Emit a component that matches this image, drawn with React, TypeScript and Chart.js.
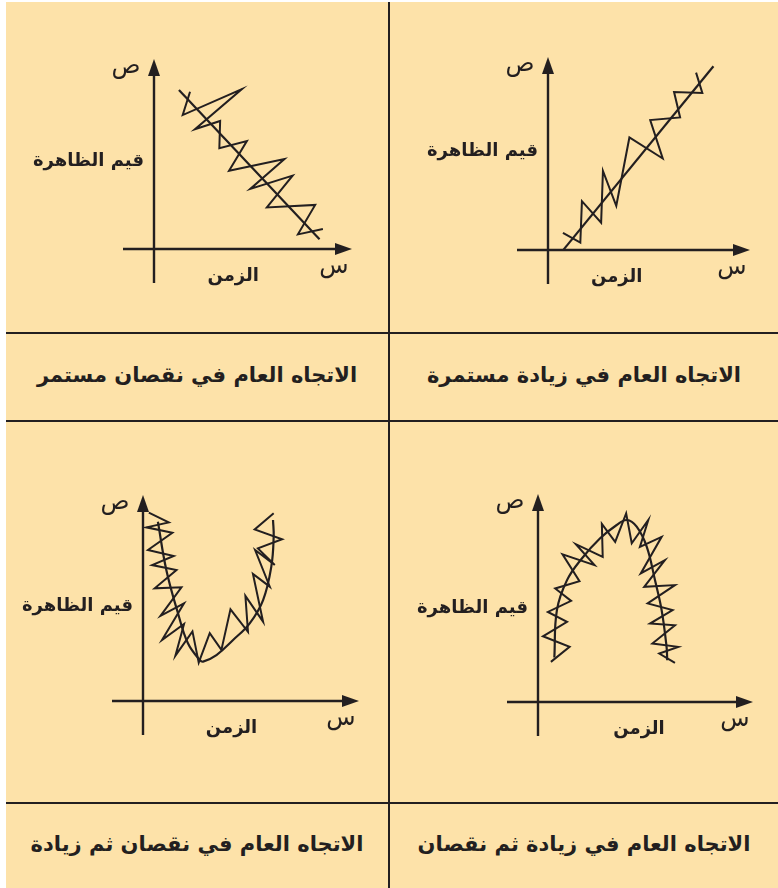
import React, { useEffect, useRef } from "react";
import { Chart, registerables } from "chart.js";

Chart.register(...registerables);

const PAPER = "#FDE2A9";
const INK = "#231F20";
const FONT = '"DejaVu Sans", sans-serif';

// Axis wording shared by all four sketches
const Y_TITLE = "قيم الظاهرة";
const X_TITLE = "الزمن";
const Y_SYMBOL = "ص";
const X_SYMBOL = "س";

// Captions under each sketch
const CAPTION_RISE = "الاتجاه العام في زيادة مستمرة";
const CAPTION_FALL = "الاتجاه العام في نقصان مستمر";
const CAPTION_RISE_FALL = "الاتجاه العام في زيادة ثم نقصان";
const CAPTION_FALL_RISE = "الاتجاه العام في نقصان ثم زيادة";

// Observed values (time, value) and general trend, on a 0–10 scale per axis
const risingObserved: [number, number][] = [
  [0.74, 0.89], [1.6, 0.38], [1.68, 2.53], [2.63, 1.41], [2.72, 4.1],
  [3.38, 2.29], [4.03, 5.83], [5.68, 4.74], [5.06, 6.73], [6.54, 6.87],
  [6.24, 8.19], [7.64, 8.14], [7.33, 9.19],
];
const risingTrend: [number, number][] = [[0.74, -0.02], [8.19, 9.52]];

const fallingObserved: [number, number][] = [
  [1.82, 8.28], [1.45, 7.05], [4.44, 8.42], [2.07, 6.3], [3.34, 6.74],
  [3.3, 5.3], [4.69, 5.68], [3.79, 4.12], [6.59, 4.74], [4.86, 3.16],
  [7.0, 3.86], [5.7, 2.19], [8.14, 2.32], [7.27, 0.77], [8.53, 1.05],
];
const fallingTrend: [number, number][] = [[1.26, 8.37], [8.36, 0.51]];

const archObserved: [number, number][] = [
  [0.6, 1.93], [1.47, 2.65], [0.23, 3.16], [1.35, 3.85], [0.46, 4.33],
  [1.54, 4.86], [0.8, 5.46], [1.93, 5.81], [1.14, 7.1], [2.63, 6.58],
  [1.76, 7.59], [3.01, 6.98], [2.97, 8.56], [3.59, 7.7], [4.1, 9.07],
  [4.36, 7.63], [5.13, 8.75], [4.74, 7.46], [5.75, 7.94], [4.78, 6.18],
  [5.9, 6.82], [4.94, 5.54], [6.37, 5.62], [5.1, 4.74], [6.26, 4.42],
  [5.21, 3.77], [6.37, 3.69], [5.32, 2.81], [6.52, 2.65], [5.64, 2.33],
  [6.37, 1.88],
];
const archTrend: [number, number][] = [
  [0.76, 2.14], [0.88, 4.42], [1.35, 5.86], [2.04, 6.9], [2.89, 7.87],
  [3.66, 8.51], [4.13, 8.75], [4.59, 8.43], [5.06, 7.46], [5.44, 5.86],
  [5.75, 4.42], [5.98, 2.65], [6.01, 2.01],
];

const valleyObserved: [number, number][] = [
  [0.27, 9.14], [1.19, 8.67], [0.16, 8.43], [1.36, 8.17], [0.23, 7.33],
  [1.42, 7.04], [0.42, 6.6], [1.55, 6.36], [0.54, 5.47], [1.78, 5.52],
  [0.81, 4.13], [1.9, 4.74], [0.88, 2.96], [1.9, 3.74], [1.5, 2.2],
  [2.29, 3.38], [2.58, 1.86], [3.09, 3.29], [3.63, 2.48], [4.05, 4.45],
  [4.86, 3.36], [4.74, 5.1], [5.56, 3.85], [5.09, 6.17], [5.87, 5.55],
  [5.19, 7.33], [6.1, 6.6], [5.32, 7.41], [6.44, 7.85], [5.17, 8.33],
  [6.05, 9.11],
];
const valleyTrend: [number, number][] = [
  [0.69, 8.7], [1.08, 6.36], [1.62, 4.26], [2.08, 2.8], [2.63, 1.99],
  [2.78, 1.91], [3.4, 2.23], [4.17, 2.96], [4.94, 3.77], [5.56, 4.9],
  [5.94, 6.52], [6.05, 7.98], [6.02, 8.79],
];

type Panel = {
  observed: [number, number][];
  trend: [number, number][];
  curved: boolean;
  box: { left: number; top: number; width: number; height: number };
  pad: { left: number; top: number; right: number; bottom: number };
  xTitleAt: number;
  yTitleAt: number;
};

const PANELS: Panel[] = [
  {
    observed: fallingObserved, trend: fallingTrend, curved: false,
    box: { left: 6, top: 2, width: 382, height: 330 },
    pad: { left: 148, top: 57, right: 36, bottom: 83 },
    xTitleAt: 4.0, yTitleAt: 4.63,
  },
  {
    observed: risingObserved, trend: risingTrend, curved: false,
    box: { left: 390, top: 2, width: 388, height: 330 },
    pad: { left: 158, top: 55, right: 28, bottom: 82 },
    xTitleAt: 3.4, yTitleAt: 5.12,
  },
  {
    observed: valleyObserved, trend: valleyTrend, curved: true,
    box: { left: 6, top: 422, width: 382, height: 380 },
    pad: { left: 137, top: 73, right: 29, bottom: 101 },
    xTitleAt: 4.1, yTitleAt: 4.61,
  },
  {
    observed: archObserved, trend: archTrend, curved: true,
    box: { left: 390, top: 422, width: 388, height: 380 },
    pad: { left: 148, top: 72, right: 25, bottom: 100 },
    xTitleAt: 4.7, yTitleAt: 4.51,
  },
];

const toPoints = (arr: [number, number][]) => arr.map(([x, y]) => ({ x, y }));

// Draws the crossing axes with arrowheads and their Arabic labels
const axesPlugin = {
  id: "sketchAxes",
  beforeDatasetsDraw(chart: any, _args: any, opts: any) {
    const { ctx, scales } = chart;
    const ox = scales.x.getPixelForValue(0);
    const oy = scales.y.getPixelForValue(0);
    const tx = scales.x.getPixelForValue(10);
    const ty = scales.y.getPixelForValue(10);
    ctx.save();
    ctx.strokeStyle = INK;
    ctx.fillStyle = INK;
    ctx.lineWidth = 2.4;
    ctx.lineCap = "butt";
    ctx.beginPath();
    ctx.moveTo(ox - 31, oy);
    ctx.lineTo(tx - 10, oy);
    ctx.moveTo(ox, oy + 34);
    ctx.lineTo(ox, ty + 10);
    ctx.stroke();
    // arrowheads
    ctx.beginPath();
    ctx.moveTo(tx, oy);
    ctx.lineTo(tx - 17, oy - 6);
    ctx.lineTo(tx - 17, oy + 6);
    ctx.closePath();
    ctx.fill();
    ctx.beginPath();
    ctx.moveTo(ox, ty);
    ctx.lineTo(ox - 6, ty + 17);
    ctx.lineTo(ox + 6, ty + 17);
    ctx.closePath();
    ctx.fill();

    ctx.font = `bold 18px ${FONT}`;
    ctx.textBaseline = "middle";
    ctx.textAlign = "right";
    ctx.fillText(Y_TITLE, ox - 10, scales.y.getPixelForValue(opts.yTitleAt));
    ctx.textAlign = "center";
    ctx.fillText(X_TITLE, scales.x.getPixelForValue(opts.xTitleAt), oy + 27);
    ctx.font = `24px ${FONT}`;
    ctx.fillText(Y_SYMBOL, ox - 28, ty + 8);
    ctx.fillText(X_SYMBOL, tx - 18, oy + 18);
    ctx.restore();
  },
};

function Sketch({ panel }: { panel: Panel }) {
  const ref = useRef<HTMLCanvasElement | null>(null);
  useEffect(() => {
    if (!ref.current) return;
    const chart = new Chart(ref.current, {
      type: "line",
      data: {
        datasets: [
          {
            data: toPoints(panel.observed),
            borderColor: INK,
            borderWidth: 2,
            pointRadius: 0,
            tension: 0,
            fill: false,
            clip: false,
          },
          {
            data: toPoints(panel.trend),
            borderColor: INK,
            borderWidth: 2.2,
            pointRadius: 0,
            tension: panel.curved ? 0.4 : 0,
            fill: false,
            clip: false,
          },
        ],
      },
      options: {
        responsive: false,
        animation: false,
        events: [],
        layout: { padding: panel.pad },
        scales: {
          x: { type: "linear", min: 0, max: 10, display: false },
          y: { type: "linear", min: 0, max: 10, display: false },
        },
        plugins: {
          legend: { display: false },
          tooltip: { enabled: false },
          sketchAxes: { xTitleAt: panel.xTitleAt, yTitleAt: panel.yTitleAt },
        } as any,
      },
      plugins: [axesPlugin],
    });
    return () => chart.destroy();
  }, [panel]);
  return (
    <canvas
      ref={ref}
      width={panel.box.width}
      height={panel.box.height}
      style={{
        position: "absolute",
        left: panel.box.left,
        top: panel.box.top,
        width: panel.box.width,
        height: panel.box.height,
      }}
    />
  );
}

const rule = (style: React.CSSProperties) => (
  <div style={{ position: "absolute", background: INK, ...style }} />
);

function Caption({ text, left, top, width, height }: { text: string; left: number; top: number; width: number; height: number }) {
  return (
    <div
      dir="rtl"
      style={{
        position: "absolute",
        left,
        top,
        width,
        height,
        display: "flex",
        alignItems: "center",
        justifyContent: "center",
        fontFamily: FONT,
        fontWeight: "bold",
        fontSize: 21,
        color: INK,
      }}
    >
      {text}
    </div>
  );
}

export default function App() {
  useEffect(() => {
    document.body.style.margin = "0";
  }, []);
  return (
    <div style={{ position: "relative", width: 778, height: 888, background: "#fff", overflow: "hidden" }}>
      <div style={{ position: "absolute", left: 6, top: 2, width: 772, height: 886, background: PAPER }} />
      {PANELS.map((p, i) => (
        <Sketch key={i} panel={p} />
      ))}
      {rule({ left: 388, top: 2, width: 2, height: 886 })}
      {rule({ left: 6, top: 332, width: 772, height: 2 })}
      {rule({ left: 6, top: 420, width: 772, height: 2 })}
      {rule({ left: 6, top: 802, width: 772, height: 2 })}
      <Caption text={CAPTION_FALL} left={6} top={332} width={382} height={86} />
      <Caption text={CAPTION_RISE} left={390} top={332} width={388} height={86} />
      <Caption text={CAPTION_FALL_RISE} left={6} top={802} width={382} height={84} />
      <Caption text={CAPTION_RISE_FALL} left={390} top={802} width={388} height={84} />
    </div>
  );
}
